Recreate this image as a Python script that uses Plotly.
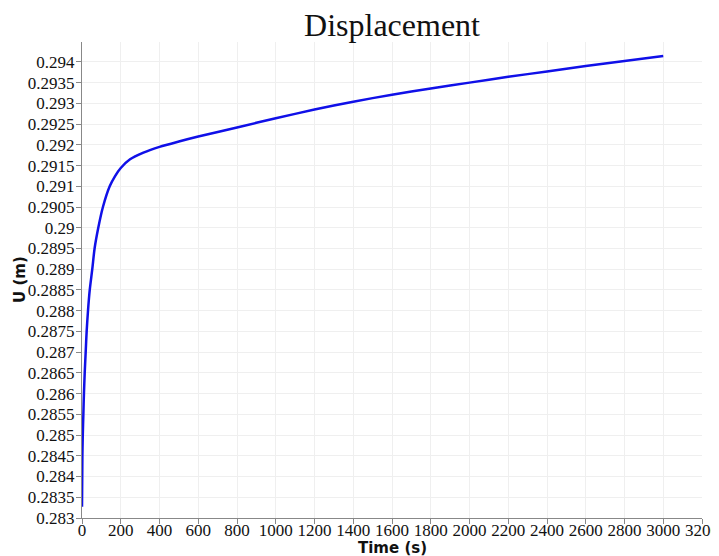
import plotly.graph_objects as go

time_s = [0, 2, 4, 7, 10, 14, 19, 24, 31, 40, 53, 65, 84, 108, 143, 170, 200, 248, 317,
          400, 500, 600, 800, 1000, 1200, 1400, 1600, 1800, 2000, 2200, 2400, 2600, 2800, 3000]
u_m = [0.28327, 0.2845, 0.2850, 0.2855, 0.2860, 0.2865, 0.2870, 0.2875, 0.2880, 0.2885,
       0.2890, 0.2895, 0.2900, 0.2905, 0.2910, 0.29124, 0.29144, 0.29165, 0.29181,
       0.29195, 0.29208, 0.29220, 0.29242, 0.29264, 0.29285, 0.29304, 0.29321, 0.29336,
       0.29350, 0.29364, 0.29377, 0.29390, 0.29402, 0.29414]

fig = go.Figure()
fig.add_trace(go.Scatter(x=time_s, y=u_m, mode="lines",
                         line=dict(color="#1010e8", width=2.5, shape="spline", smoothing=0.8),
                         showlegend=False))

tick_font = dict(family="Liberation Serif, Times New Roman, serif", size=17, color="#111")
title_font = dict(family="DejaVu Sans, sans-serif", size=15, color="#111")

# page body has an 8px margin, so the figure is sized/offset to compensate
fig.update_layout(
    width=711, height=548,
    margin=dict(l=74, r=17, t=34, b=38),
    paper_bgcolor="white", plot_bgcolor="white",
    title=dict(text="Displacement", x=0.5, xref="paper", xanchor="center",
               y=0.99, yref="container", yanchor="top",
               font=dict(family="Liberation Serif, Times New Roman, serif", size=32, color="#111")),
    annotations=[
        dict(text="<b>Time (s)</b>", x=0.5, y=-0.063, xref="paper", yref="paper",
             xanchor="center", yanchor="middle", showarrow=False, font=title_font),
        dict(text="<b>U (m)</b>", x=-0.1, y=0.5, xref="paper", yref="paper",
             xanchor="center", yanchor="middle", showarrow=False, textangle=-90, font=title_font),
    ],
)
fig.update_xaxes(range=[0, 3200], dtick=200, tick0=0, automargin=False,
                 showgrid=True, gridcolor="#efefef", gridwidth=1,
                 showline=True, linecolor="#888", linewidth=1,
                 ticks="outside", ticklen=5, tickcolor="#888",
                 ticklabelstandoff=-8,
                 tickfont=tick_font, zeroline=False)
fig.update_yaxes(range=[0.283, 0.29448], dtick=0.0005, tick0=0.283, automargin=False,
                 showgrid=True, gridcolor="#efefef", gridwidth=1,
                 showline=True, linecolor="#888", linewidth=1,
                 ticks="outside", ticklen=5, tickcolor="#888",
                 ticklabelstandoff=-2,
                 tickfont=tick_font, zeroline=False)

fig.write_html("out.html")
